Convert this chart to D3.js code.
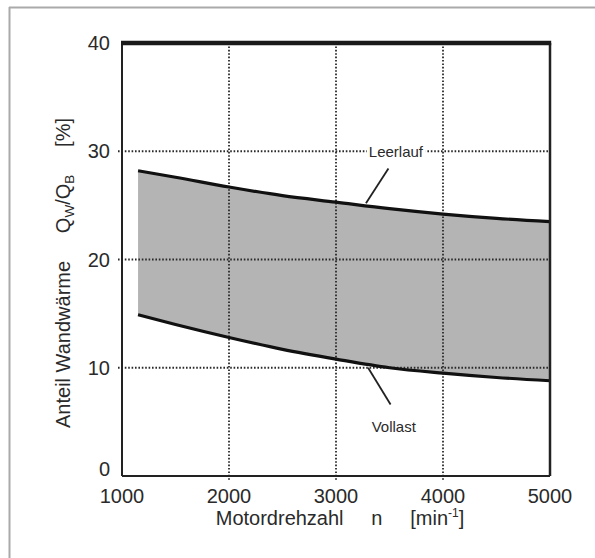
<!DOCTYPE html>
<html>
<head>
<meta charset="utf-8">
<script src="https://cdn.jsdelivr.net/npm/d3@7"></script>
<style>
  html, body { margin: 0; padding: 0; background: #fff; }
  svg { display: block; }
  text { font-family: "Liberation Sans", Arial, sans-serif; fill: #2a2a2a; }
</style>
</head>
<body>
<svg id="chart"></svg>
<script>
// speed [min^-1] and wall-heat share [%]
const drehzahl = [1150, 1500, 2000, 2500, 3000, 3500, 4000, 4500, 5000];
const leerlauf = [28.2, 27.6, 26.7, 25.9, 25.3, 24.7, 24.2, 23.8, 23.5];
const vollast = [14.9, 14.0, 12.8, 11.7, 10.8, 10.0, 9.5, 9.1, 8.8];
const xTicks = [1000, 2000, 3000, 4000, 5000];
const yTicks = [0, 10, 20, 30, 40];
const labels = [
  { text: 'Leerlauf', n: 3560, v: 30, from: [3280, 25.2], to: [3490, 28.4], bg: true },
  { text: 'Vollast', n: 3540, v: 4.6, from: [3300, 10.0], to: [3510, 6.6], bg: false },
];

const width = 595, height = 558;
const margin = { top: 43, right: 45, bottom: 82, left: 122 };
const svg = d3.select('#chart').attr('width', width).attr('height', height);

// light frame (top and left only)
svg.append('line').attr('x1', 9).attr('x2', width).attr('y1', 7.5).attr('y2', 7.5).attr('stroke', '#aaa').attr('stroke-width', 2);
svg.append('line').attr('x1', 9.5).attr('x2', 9.5).attr('y1', 7).attr('y2', height).attr('stroke', '#aaa').attr('stroke-width', 2);

const innerW = width - margin.left - margin.right;
const innerH = height - margin.top - margin.bottom;
const g = svg.append('g').attr('transform', `translate(${margin.left},${margin.top})`);

const x = d3.scaleLinear([1000, 5000], [0, innerW]);
const y = d3.scaleLinear([0, 40], [innerH, 0]);

const rows = drehzahl.map((n, i) => ({ n, hi: leerlauf[i], lo: vollast[i] }));
const curve = d3.curveMonotoneX;

g.append('path').datum(rows)
  .attr('d', d3.area().x((d) => x(d.n)).y0((d) => y(d.lo)).y1((d) => y(d.hi)).curve(curve))
  .attr('fill', '#b4b4b4');

// dotted grid
g.append('g').selectAll('line').data(xTicks.slice(1, -1)).join('line')
  .attr('x1', (d) => x(d)).attr('x2', (d) => x(d)).attr('y1', 0).attr('y2', innerH + 4)
  .attr('stroke', '#2a2a2a').attr('stroke-width', 1.8).attr('stroke-dasharray', '1.6,1.8');
g.append('g').selectAll('line').data(yTicks.slice(1, -1)).join('line')
  .attr('x1', -4).attr('x2', innerW).attr('y1', (d) => y(d)).attr('y2', (d) => y(d))
  .attr('stroke', '#2a2a2a').attr('stroke-width', 1.8).attr('stroke-dasharray', '1.6,1.8');

// curves
[leerlauf, vollast].forEach((vals) => {
  g.append('path').datum(drehzahl.map((n, i) => [n, vals[i]]))
    .attr('d', d3.line().x((d) => x(d[0])).y((d) => y(d[1])).curve(curve))
    .attr('fill', 'none').attr('stroke', '#111').attr('stroke-width', 3.2);
});

// frame of the plot
g.append('line').attr('x1', 0).attr('x2', innerW).attr('y1', innerH).attr('y2', innerH).attr('stroke', '#222').attr('stroke-width', 2);
g.append('line').attr('x1', 0).attr('x2', 0).attr('y1', 0).attr('y2', innerH).attr('stroke', '#222').attr('stroke-width', 2);
g.append('line').attr('x1', innerW).attr('x2', innerW).attr('y1', 0).attr('y2', innerH).attr('stroke', '#222').attr('stroke-width', 2.5);
g.append('line').attr('x1', -1).attr('x2', innerW + 1.2).attr('y1', y(40)).attr('y2', y(40)).attr('stroke', '#1a1a1a').attr('stroke-width', 4.5);

// tick labels
g.append('g').selectAll('text').data(xTicks).join('text')
  .attr('x', (d) => x(d)).attr('y', innerH + 27).attr('text-anchor', 'middle')
  .attr('font-size', 20).text((d) => d);
g.append('g').selectAll('text').data(yTicks).join('text')
  .attr('x', -12).attr('y', (d) => y(d)).attr('dy', (d) => (d === 0 ? '0' : '0.36em')).attr('text-anchor', 'end')
  .attr('font-size', 20).text((d) => d);

// annotations
labels.forEach((l) => {
  g.append('line').attr('x1', x(l.from[0])).attr('y1', y(l.from[1])).attr('x2', x(l.to[0])).attr('y2', y(l.to[1]))
    .attr('stroke', '#222').attr('stroke-width', 1.8);
  const t = g.append('text').attr('x', x(l.n)).attr('y', y(l.v)).attr('dy', '0.36em')
    .attr('text-anchor', 'middle').attr('font-size', 15).text(l.text);
  if (l.bg) {
    const b = t.node().getBBox();
    g.insert('rect', () => t.node()).attr('x', b.x - 2).attr('y', b.y + 2).attr('width', b.width + 4).attr('height', b.height - 4).attr('fill', '#fff');
  }
});

// axis titles
const xt = svg.append('text').attr('x', 340).attr('y', 525).attr('text-anchor', 'middle').attr('font-size', 20)
  .style('white-space', 'pre');
xt.append('tspan').text('Motordrehzahl     n     [min');
xt.append('tspan').attr('font-size', 12).attr('dy', -8).text('-1');
xt.append('tspan').attr('dy', 8).text(']');

const yt = svg.append('text').attr('transform', 'translate(70,273) rotate(-90)').attr('text-anchor', 'middle')
  .attr('font-size', 20).style('white-space', 'pre');
yt.append('tspan').text('Anteil Wandwärme     Q');
yt.append('tspan').attr('font-size', 13.5).attr('dy', 4).text('W');
yt.append('tspan').attr('dy', -4).text('/Q');
yt.append('tspan').attr('font-size', 13.5).attr('dy', 4).text('B');
yt.append('tspan').attr('dy', -4).text('     [%]');
</script>
</body>
</html>
